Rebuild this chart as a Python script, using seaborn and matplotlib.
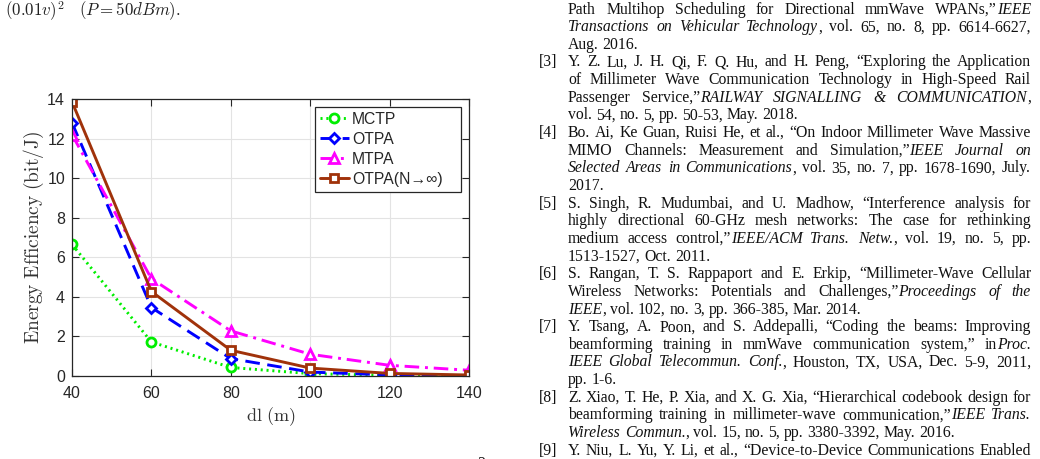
import matplotlib
matplotlib.use("Agg")
import matplotlib.pyplot as plt
import pandas as pd
import seaborn as sns

# datos de la grafica
dl = [40, 60, 80, 100, 120, 140]
mctp = [6.65, 1.72, 0.43, 0.12, 0.03, 0.01]
otpa = [12.8, 3.46, 0.88, 0.20, 0.05, 0.02]
mtpa = [12.2, 4.92, 2.28, 1.10, 0.54, 0.29]
otpa_inf = [13.86, 4.27, 1.30, 0.40, 0.13, 0.05]
series_names = ["MCTP", "OTPA", "MTPA", "OTPA(N\u2192\u221e)"]
x_ticks = [40, 60, 80, 100, 120, 140]
y_ticks = [0, 2, 4, 6, 8, 10, 12, 14]

# texto de referencias (lo que va entre _ es cursiva)
ref_lines = [
    ("", "Path Multihop Scheduling for Directional mmWave WPANs,\u201d _IEEE_", True),
    ("", "_Transactions on Vehicular Technology_, vol. 65, no. 8, pp. 6614-6627,", True),
    ("", "Aug. 2016.", False),
    ("[3]", "Y. Z. Lu, J. H. Qi, F. Q. Hu, and H. Peng, \u201cExploring the Application", True),
    ("", "of Millimeter Wave Communication Technology in High-Speed Rail", True),
    ("", "Passenger Service,\u201d _RAILWAY SIGNALLING & COMMUNICATION_,", True),
    ("", "vol. 54, no. 5, pp. 50-53, May. 2018.", False),
    ("[4]", "Bo. Ai, Ke Guan, Ruisi He, et al., \u201cOn Indoor Millimeter Wave Massive", True),
    ("", "MIMO Channels: Measurement and Simulation,\u201d _IEEE Journal on_", True),
    ("", "_Selected Areas in Communications_, vol. 35, no. 7, pp. 1678-1690, July.", True),
    ("", "2017.", False),
    ("[5]", "S. Singh, R. Mudumbai, and U. Madhow, \u201cInterference analysis for", True),
    ("", "highly directional 60-GHz mesh networks: The case for rethinking", True),
    ("", "medium access control,\u201d _IEEE/ACM Trans. Netw._, vol. 19, no. 5, pp.", True),
    ("", "1513-1527, Oct. 2011.", False),
    ("[6]", "S. Rangan, T. S. Rappaport and E. Erkip, \u201cMillimeter-Wave Cellular", True),
    ("", "Wireless Networks: Potentials and Challenges,\u201d _Proceedings of the_", True),
    ("", "_IEEE_, vol. 102, no. 3, pp. 366-385, Mar. 2014.", False),
    ("[7]", "Y. Tsang, A. Poon, and S. Addepalli, \u201cCoding the beams: Improving", True),
    ("", "beamforming training in mmWave communication system,\u201d in _Proc._", True),
    ("", "_IEEE Global Telecommun. Conf._, Houston, TX, USA, Dec. 5-9, 2011,", True),
    ("", "pp. 1-6.", False),
    ("[8]", "Z. Xiao, T. He, P. Xia, and X. G. Xia, \u201cHierarchical codebook design for", True),
    ("", "beamforming training in millimeter-wave communication,\u201d _IEEE Trans._", True),
    ("", "_Wireless Commun._, vol. 15, no. 5, pp. 3380-3392, May. 2016.", False),
    ("[9]", "Y. Niu, L. Yu, Y. Li, et al., \u201cDevice-to-Device Communications Enabled", True),
]

W, H = 1040, 459
sns.set_style("ticks")
plt.rcParams["mathtext.fontset"] = "cm"
plt.rcParams["font.family"] = ["Liberation Sans", "DejaVu Sans"]

fig = plt.figure(figsize=(W / 100, H / 100), dpi=100)
ax = fig.add_axes([72 / W, 1 - 376 / H, (469 - 72) / W, (376 - 99) / H])

df = pd.DataFrame({"dl": dl, "MCTP": mctp, "OTPA": otpa, "MTPA": mtpa, series_names[3]: otpa_inf})
estilos = {
    "MCTP": dict(color="#00ee00", linestyle=(0, (0.7, 1.3)), marker="o", markersize=6.5),
    "OTPA": dict(color="#0000ff", linestyle=(0, (5, 2.6)), marker="D", markersize=5.5),
    "MTPA": dict(color="#ff00ff", linestyle=(0, (5, 2, 1, 2)), marker="^", markersize=7),
    series_names[3]: dict(color="#a0320a", linestyle="-", marker="s", markersize=5.5),
}
for name in series_names:
    st = estilos[name]
    sns.lineplot(data=df, x="dl", y=name, ax=ax, label=name, color=st["color"],
                 linestyle=st["linestyle"], marker=st["marker"], markersize=st["markersize"],
                 markerfacecolor="white", markeredgecolor=st["color"], markeredgewidth=2,
                 linewidth=2.1, dash_capstyle="butt")

ax.set_xlim(40, 140)
ax.set_ylim(0, 14)
ax.set_xticks(x_ticks)
ax.set_yticks(y_ticks)
ax.grid(True, color="#e3e3e3", linewidth=0.8)
ax.set_axisbelow(True)
for s in ax.spines.values():
    s.set_color("#262626")
    s.set_linewidth(0.9)
ax.tick_params(direction="in", top=True, right=True, length=5, width=0.8,
               labelsize=11.5, colors="#262626", labelcolor="#262626")
ax.tick_params(axis="x", pad=7)
ax.tick_params(axis="y", pad=5)
ax.set_xlabel(r"$\mathrm{dl\ (m)}$", fontsize=13, color="#333333", labelpad=3)
ax.set_ylabel(r"$\mathrm{Energy\ Efficiency\ (bit/J)}$", fontsize=14, color="#333333", labelpad=1)

# leyenda estirada a lo ancho de la caja, como en MATLAB
leg = ax.legend(loc="upper left", mode="expand",
                bbox_to_anchor=((315 - 72) / 397, 0.5, (461 - 315) / 397, 0.471),
                fontsize=11.3, frameon=True, fancybox=False, edgecolor="#262626", framealpha=1,
                handlelength=1.85, handletextpad=0.2, labelspacing=0.32,
                borderpad=0.3, borderaxespad=0)
leg.get_frame().set_linewidth(0.9)

# texto de arriba a la izquierda
fig.text(5 / W, 1 - 16 / H, r"$(0.01v)^2\quad(P=50dBm).$", fontsize=12.2, color="#222222")

# referencias justificadas, palabra por palabra
renderer = fig.canvas.get_renderer()
fs = 11.3
serif = ["Liberation Serif", "DejaVu Serif"]
x_left, x_right = 568, 1031
base0, paso = 13.5, 17.65
space_px = 0.25 * fs * 100 / 72
extra_it = 2.0  # aire antes de una palabra en cursiva


def tokens(line):
    toks = []
    for k, part in enumerate(line.split("_")):
        words = part.split(" ")
        for j, w in enumerate(words):
            if w == "":
                continue
            toks.append((w, k % 2 == 1, j > 0 or not toks))
    return toks


for i, (label, line, justify) in enumerate(ref_lines):
    yb = 1 - (base0 + i * paso) / H
    if label:
        fig.text(539 / W, yb, label, fontsize=fs, family=serif, color="#111111", va="baseline")
    toks = tokens(line)
    objs = []
    widths = []
    pre = []
    for n, (w, it, gap) in enumerate(toks):
        t = fig.text(0, yb, w, fontsize=fs, family=serif, style="italic" if it else "normal",
                     color="#111111", va="baseline")
        objs.append(t)
        widths.append(t.get_window_extent(renderer).width)
        pre.append(extra_it if (it and gap and n > 0 and not toks[n - 1][1]) else 0)
    ngaps = sum(1 for n, tk in enumerate(toks) if n > 0 and tk[2])
    gap_px = space_px
    if justify and ngaps > 0:
        gap_px = (x_right - x_left - sum(widths) - sum(pre)) / ngaps
    x = x_left
    for n, (t, wd) in enumerate(zip(objs, widths)):
        if n > 0 and toks[n][2]:
            x += gap_px
        x += pre[n]
        t.set_position((x / W, yb))
        x += wd

# numero de pagina cortado abajo
fig.text(477 / W, 1 - 468 / H, "2", fontsize=fs, family=serif, color="#111111", va="baseline")

plt.savefig("out.png", dpi=100)
